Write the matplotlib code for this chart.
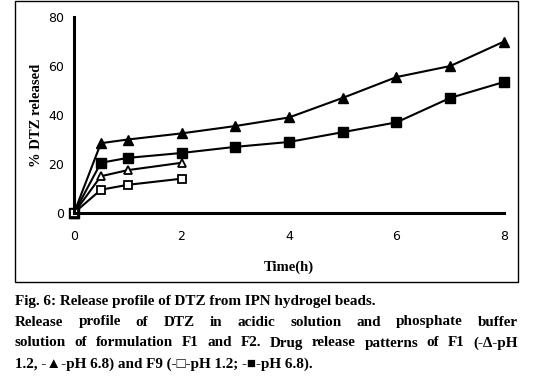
import matplotlib.pyplot as plt
from matplotlib.patches import Rectangle

# release data
time_long = [0, 0.5, 1, 2, 3, 4, 5, 6, 7, 8]
time_short = [0, 0.5, 1, 2]
f1_ph68 = [0, 28.5, 30, 32.5, 35.5, 39, 47, 55.5, 60, 70]
f9_ph68 = [0, 20.5, 22.5, 24.5, 27, 29, 33, 37, 47, 53.5]
f1_ph12 = [0, 15, 17.5, 20.5]
f9_ph12 = [0, 9.5, 11.5, 14]

x_ticks = [0, 2, 4, 6, 8]
y_ticks = [0, 20, 40, 60, 80]

caption_title = "Fig. 6: Release profile of DTZ from IPN hydrogel beads."
caption_lines = [
    "Release profile of DTZ in acidic solution and phosphate buffer",
    "solution of formulation F1 and F2. Drug release patterns of F1 (-\u0394-pH",
    "1.2, -\u25b2-pH 6.8) and F9 (-\u25a1-pH 1.2; -\u25a0-pH 6.8).",
]

fig = plt.figure(figsize=(5.34, 3.79), dpi=100)
fig.patch.set_facecolor("white")

# frame around the chart
fig.add_artist(Rectangle((0.028, 0.256), 0.942, 0.741, transform=fig.transFigure,
                         fill=False, edgecolor="black", linewidth=1.0))

ax = fig.add_axes([0.1386, 0.438, 0.8052, 0.517])
ax.plot(time_long, f1_ph68, "k-", marker="^", markersize=7, linewidth=1.5, clip_on=False)
ax.plot(time_long, f9_ph68, "k-", marker="s", markersize=7, linewidth=1.5, clip_on=False)
ax.plot(time_short, f1_ph12, "k-", marker="^", markersize=6, markerfacecolor="white",
        markeredgewidth=1.3, linewidth=1.5, clip_on=False)
ax.plot(time_short, f9_ph12, "k-", marker="s", markersize=6, markerfacecolor="white",
        markeredgewidth=1.3, linewidth=1.5, clip_on=False)

ax.set_xlim(0, 8)
ax.set_ylim(0, 80)
ax.set_xticks(x_ticks)
ax.set_yticks(y_ticks)
ax.tick_params(axis="x", length=0, labelsize=9, pad=12)
ax.tick_params(axis="y", length=0, labelsize=9, pad=7)
ax.spines["top"].set_visible(False)
ax.spines["right"].set_visible(False)
ax.spines["left"].set_linewidth(2.2)
ax.spines["bottom"].set_linewidth(2.2)
ax.set_xlabel("Time(h)", fontfamily="Liberation Serif", fontweight="bold", fontsize=10.5, labelpad=13)
ax.set_ylabel("% DTZ released", fontfamily="Liberation Serif", fontweight="bold", fontsize=10.5, labelpad=4)

# caption, lines justified between the frame edges
serif = ["Liberation Serif", "DejaVu Serif"]
fs = 10.9
left, right = 0.028, 0.970
fig.text(left, 1 - 301 / 379, caption_title, fontfamily=serif, fontweight="bold",
         fontsize=fs, va="center", ha="left")

renderer = fig.canvas.get_renderer()
for i, line in enumerate(caption_lines):
    y = 1 - (322 + 21 * i) / 379
    words = line.split(" ")
    if i == len(caption_lines) - 1:
        fig.text(left, y, line, fontfamily=serif, fontweight="bold", fontsize=fs,
                 va="center", ha="left")
        continue
    texts = [fig.text(0, y, w, fontfamily=serif, fontweight="bold", fontsize=fs,
                      va="center", ha="left") for w in words]
    widths = [t.get_window_extent(renderer).width / fig.bbox.width for t in texts]
    gap = (right - left - sum(widths)) / (len(words) - 1)
    xpos = left
    for t, w in zip(texts, widths):
        t.set_x(xpos)
        xpos += w + gap

fig.savefig("out.png", dpi=100)
